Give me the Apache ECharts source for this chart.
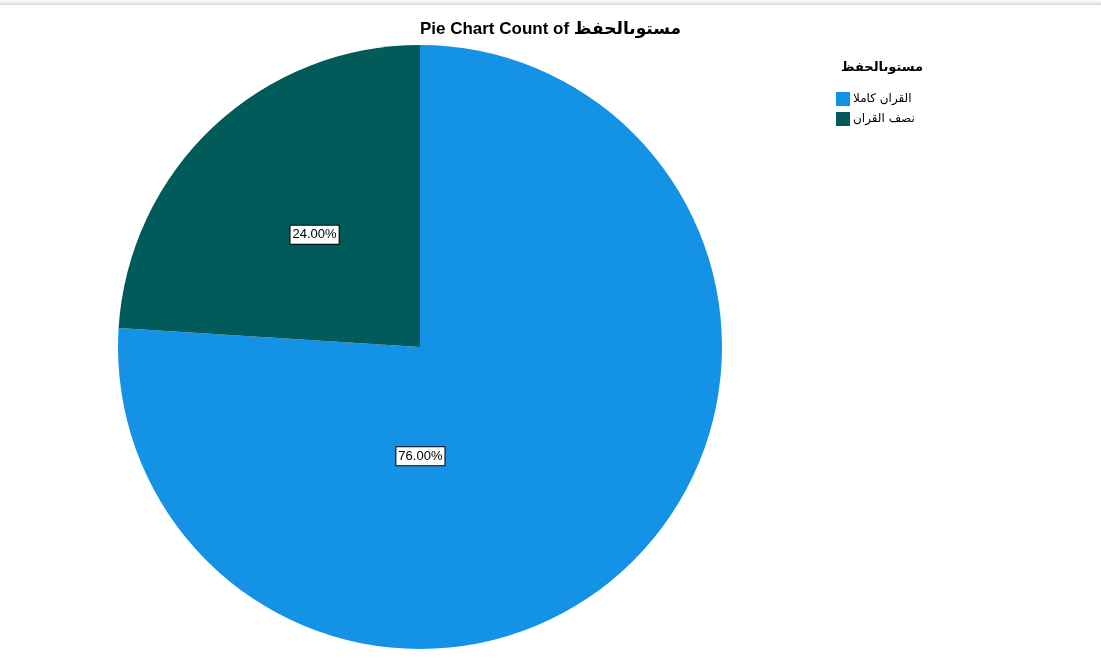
<!DOCTYPE html>
<html>
<head>
<meta charset="utf-8">
<script src="https://cdn.jsdelivr.net/npm/echarts@6/dist/echarts.min.js"></script>
<style>
  html, body { margin: 0; padding: 0; background: #fff; }
  #main { width: 1101px; height: 658px; }
</style>
</head>
<body>
<div id="main"></div>
<script>
// 数据
var categories = ['القران كاملا', 'نصف القران'];
var percents = [76.00, 24.00];
var colors = ['#1492e6', '#015b5b'];
var legendTitle = 'مستوىالحفظ';

var seriesData = [];
for (var i = 0; i < categories.length; i++) {
    seriesData.push({ name: categories[i], value: percents[i] });
}
// 76% 标签在饼图中部偏下
seriesData[0].label = { offset: [-105, -3] };

var myChart = echarts.init(document.getElementById('main'));
myChart.setOption({
    animation: false,
    title: [
        {
            text: 'Pie Chart Count of ' + legendTitle,
            left: 'center', top: 16,
            textStyle: { fontFamily: 'Liberation Sans, DejaVu Sans', fontSize: 17, fontWeight: 'bold', color: '#000' }
        },
        {
            text: legendTitle,
            left: 836, top: 56,
            textStyle: { fontFamily: 'DejaVu Sans', fontSize: 13, fontWeight: 'bold', color: '#000' }
        }
    ],
    legend: {
        orient: 'vertical',
        left: 831, top: 87,
        itemWidth: 14, itemHeight: 14,
        itemGap: 6,
        icon: 'rect',
        data: categories,
        textStyle: { fontFamily: 'DejaVu Sans', fontSize: 12, color: '#000', padding: [0, 0, 0, -2] }
    },
    graphic: [{
        type: 'rect',
        shape: { x: 0, y: 0, width: 1101, height: 5 },
        style: {
            fill: new echarts.graphic.LinearGradient(0, 0, 0, 1, [
                { offset: 0, color: '#ffffff' },
                { offset: 1, color: '#d8d8d8' }
            ])
        },
        silent: true
    }],
    series: [{
        type: 'pie',
        center: [420, 347],
        radius: [0, 302],
        startAngle: 90,
        clockwise: true,
        color: colors,
        data: seriesData,
        itemStyle: { borderWidth: 0 },
        label: {
            show: true,
            position: 'inside',
            formatter: function (p) { return p.value.toFixed(2) + '%'; },
            fontFamily: 'Liberation Sans, Arial',
            fontSize: 13,
            color: '#000',
            backgroundColor: '#fff',
            borderColor: '#000',
            borderWidth: 1,
            padding: [3, 2, 2, 2]
        },
        labelLine: { show: false },
        emphasis: { disabled: true }
    }]
});

window.addEventListener('resize', function () { myChart.resize(); });
</script>
</body>
</html>
